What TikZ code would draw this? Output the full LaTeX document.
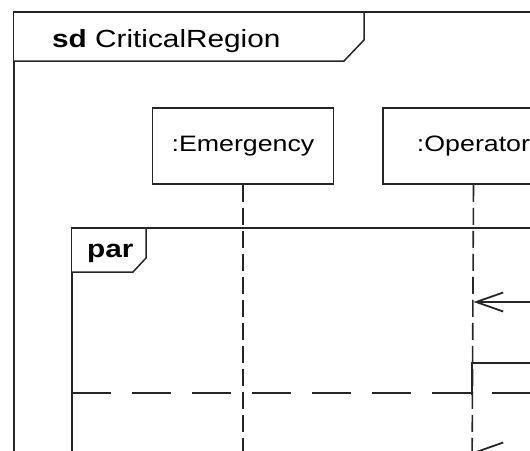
\documentclass[tikz,border=0pt]{standalone}
\usepackage{fontspec}
\newfontfamily\umlfont[FakeStretch=1.2]{Liberation Sans}
\usetikzlibrary{arrows.meta, positioning}
\tikzstyle{frameline} = [draw=black!85, line width=1.5pt]
\tikzstyle{framelabel} = [font=\umlfont\fontsize{24.8}{28}\selectfont, inner sep=0pt, anchor=base west]
\tikzstyle{lifebox} = [rectangle, minimum width=181pt, minimum height=76pt, text centered, inner sep=0pt, draw=black!85, line width=1.5pt, fill=white, font=\umlfont\fontsize{22.3}{26}\selectfont]
\tikzstyle{lifeline} = [draw=black!85, line width=1.6pt, dash pattern=on 17pt off 6pt]
\tikzstyle{operandsep} = [draw=black!85, line width=1.5pt, dash pattern=on 39pt off 21pt]
\tikzstyle{msg} = [draw=black!85, line width=1.5pt, -{Straight Barb[length=27pt, width=19pt, line width=1.8pt]}]

\begin{document}
\begin{tikzpicture}[x=1pt, y=-1pt]
\useasboundingbox (0,0) rectangle (530,450);
\clip (0,0) rectangle (530,450);

% Frame sd
\draw [frameline] (14,480) -- (14,12) -- (580,12);
\draw [frameline, fill=white] (14,12) -- (364,12) -- (364,40) -- (344,61) -- (14,61);
\node (sdlabel) [framelabel] at (52,47.5) {\textbf{sd} CriticalRegion};

% Lifelines
\node (emergency) [lifebox] at (243,146) {:Emergency};
\node (operator) [lifebox, right=48pt of emergency] {:Operator};
\coordinate (emergencyend) at (243,480);
\coordinate (operatorend) at (472,480);
\draw [lifeline] (emergency.south) -- (emergencyend);
\draw [lifeline] (operator.south) -- (operatorend);

% Fragment par
\draw [frameline] (72,480) -- (72,228) -- (580,228);
\draw [frameline, fill=white] (72,228) -- (146,228) -- (146,258) -- (133,272) -- (72,272);
\node (parlabel) [framelabel] at (87,257.5) {\textbf{par}};
\draw [operandsep] (72,393) -- (580,393);

% Fragment critical
\coordinate (criticalcorner) at (472,363);
\draw [frameline] (criticalcorner |- 0,395) -- (criticalcorner) -- (580,363);

% Connections
\coordinate (callone) at (580,302);
\coordinate (calltwo) at (580,452);
\draw [msg] (callone) -- (callone -| operator);
\draw [msg] (calltwo) -- (calltwo -| operator);

\end{tikzpicture}
\end{document}
